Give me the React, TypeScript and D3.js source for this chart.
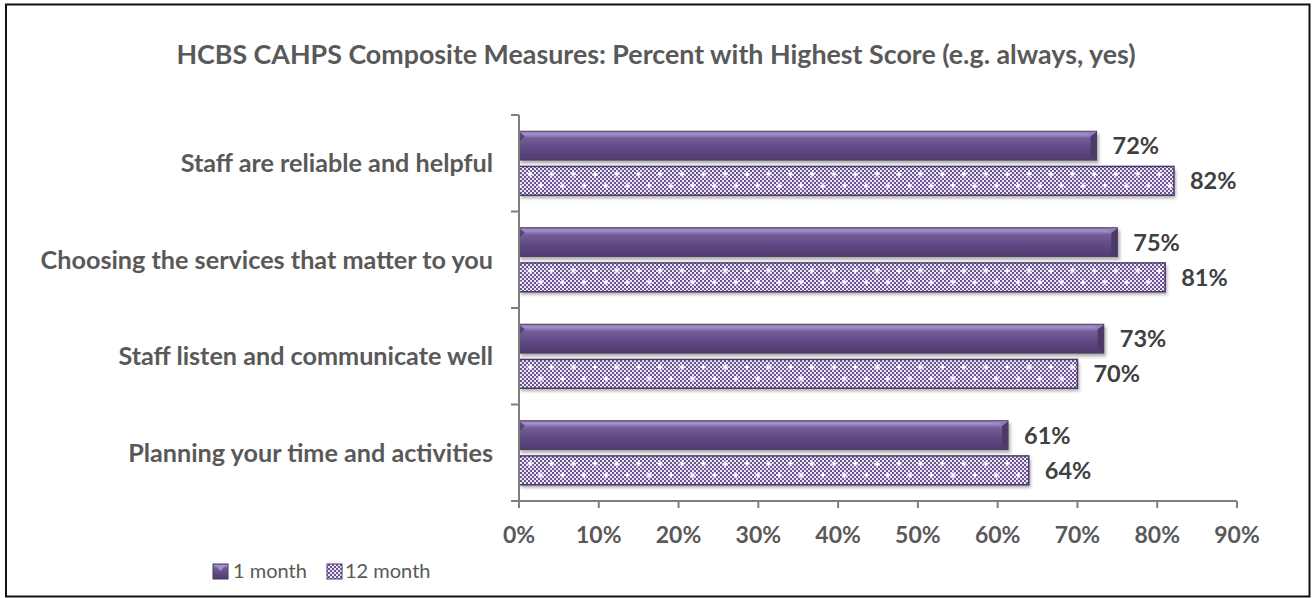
import React from "react";
import * as d3 from "d3";

const title = "HCBS CAHPS Composite Measures: Percent with Highest Score (e.g. always, yes)";
const categories = [
  "Staff are reliable and helpful",
  "Choosing the services that matter to you",
  "Staff listen and communicate well",
  "Planning your time and activities",
];
const seriesNames = ["1 month", "12 month"];
const oneMonth = [0.724, 0.75, 0.733, 0.613];
const twelveMonth = [0.821, 0.81, 0.7, 0.639];
const xTicks = [0, 0.1, 0.2, 0.3, 0.4, 0.5, 0.6, 0.7, 0.8, 0.9];

const W = 1312;
const H = 598;
const FONT = "Lato, 'Open Sans', 'DejaVu Sans', sans-serif";

export default function App() {
  const x = d3.scaleLinear().domain([0, 0.9]).range([519, 1237]);
  const y = d3.scaleBand<string>().domain(categories).range([115, 501]).padding(0);
  const fmt = d3.format(".0%");
  const values = [oneMonth, twelveMonth];

  const inner = (cat: string) =>
    d3
      .scaleBand<string>()
      .domain(seriesNames)
      .range([y(cat)! + y.bandwidth() / 2 - 32, y(cat)! + y.bandwidth() / 2 + 32])
      .paddingInner(0.18);

  const axisColor = "#7f7f7f";

  return (
    <svg
      width={W}
      height={H}
      style={{ position: "absolute", left: 0, top: 0, background: "#fff" }}
      fontFamily={FONT}
    >
      <defs>
        <linearGradient id="g1" x1="0" y1="0" x2="0" y2="1">
          <stop offset="0" stopColor="#8c77b2" />
          <stop offset="0.1" stopColor="#a591c9" />
          <stop offset="0.25" stopColor="#735c98" />
          <stop offset="0.6" stopColor="#5f4984" />
          <stop offset="1" stopColor="#4f3c6e" />
        </linearGradient>
        <pattern id="checker" patternUnits="userSpaceOnUse" width="4" height="4">
          <rect width="4" height="4" fill="#ece6f3" />
          <rect width="2" height="2" fill="#6a5394" />
          <rect x="2" y="2" width="2" height="2" fill="#6a5394" />
        </pattern>
        <filter id="shadow" x="-5%" y="-30%" width="110%" height="170%">
          <feDropShadow dx="2" dy="3" stdDeviation="1.8" floodColor="#000" floodOpacity="0.3" />
        </filter>
        {categories.map((c, i) => {
          const b = inner(c);
          const y0 = b(seriesNames[1])!;
          return (
            <pattern
              key={i}
              id={`cross-${i}`}
              patternUnits="userSpaceOnUse"
              x={x(0)}
              y={y0}
              width="21.7"
              height="23.2"
            >
              {[
                [11, 7.7],
                [0, 19.3],
                [21.7, 19.3],
              ].map(([cx, cy], k) => (
                <g key={k} fill="#ffffff">
                  <rect x={cx - 2.5} y={cy - 0.9} width={5} height={1.8} />
                  <rect x={cx - 0.9} y={cy - 2.5} width={1.8} height={5} />
                </g>
              ))}
            </pattern>
          );
        })}
      </defs>

      {/* frame */}
      <rect x={6} y={4.5} width={1303.5} height={592} fill="none" stroke="#111" strokeWidth={2} />

      {/* title */}
      <text
        x={656}
        y={64}
        textAnchor="middle"
        fontSize={26.8}
        fontWeight="bold"
        fill="#595959"
      >
        {title}
      </text>

      {/* bars */}
      {categories.map((c, i) => {
        const b = inner(c);
        const h = b.bandwidth();
        return (
          <g key={c}>
            {/* 1 month */}
            {(() => {
              const y0 = b(seriesNames[0])!;
              const x0 = x(0);
              const x1 = x(values[0][i]);
              return (
                <g>
                  <rect
                    x={x0}
                    y={y0}
                    width={x1 - x0}
                    height={h}
                    fill="url(#g1)"
                    stroke="#4a3962"
                    strokeWidth={1}
                    filter="url(#shadow)"
                  />
                  <polygon
                    points={`${x1 - 6},${y0 + 5} ${x1},${y0 + 0.5} ${x1},${y0 + h - 0.5} ${x1 - 6},${y0 + h - 4}`}
                    fill="#4c3a69"
                  />
                  <polygon
                    points={`${x1 - 12},${y0 + 0.5} ${x1},${y0 + 0.5} ${x1 - 6},${y0 + 5}`}
                    fill="#8e7ab3"
                    opacity={0.7}
                  />
                  <polygon
                    points={`${x0 + 0.5},${y0 + 0.5} ${x0 + 6},${y0 + 5} ${x0 + 0.5},${y0 + 10}`}
                    fill="#4c3a69"
                    opacity={0.8}
                  />
                  <text
                    x={x1 + 16}
                    y={y0 + h / 2}
                    dy="0.36em"
                    fontSize={23.5}
                    fontWeight="bold"
                    fill="#404040"
                  >
                    {fmt(values[0][i])}
                  </text>
                </g>
              );
            })()}
            {/* 12 month */}
            {(() => {
              const y0 = b(seriesNames[1])!;
              const x0 = x(0);
              const x1 = x(values[1][i]);
              return (
                <g>
                  <rect
                    x={x0}
                    y={y0}
                    width={x1 - x0}
                    height={h}
                    fill="url(#checker)"
                    filter="url(#shadow)"
                  />
                  <rect x={x0} y={y0} width={x1 - x0} height={h} fill={`url(#cross-${i})`} />
                  <rect
                    x={x0}
                    y={y0}
                    width={x1 - x0}
                    height={h}
                    fill="none"
                    stroke="#4b3a66"
                    strokeWidth={1.5}
                  />
                  <text
                    x={x1 + 16}
                    y={y0 + h / 2}
                    dy="0.36em"
                    fontSize={23.5}
                    fontWeight="bold"
                    fill="#404040"
                  >
                    {fmt(values[1][i])}
                  </text>
                </g>
              );
            })()}
          </g>
        );
      })}

      {/* y axis */}
      <line x1={x(0)} x2={x(0)} y1={y.range()[0]} y2={y.range()[1]} stroke={axisColor} strokeWidth={2} />
      {[...categories.map((c) => y(c)!), y.range()[1]].map((ty, k) => (
        <line key={k} x1={x(0) - 8} x2={x(0)} y1={ty} y2={ty} stroke={axisColor} strokeWidth={2} />
      ))}
      {categories.map((c) => (
        <text
          key={c}
          x={493}
          y={y(c)! + y.bandwidth() / 2}
          dy="0.36em"
          textAnchor="end"
          fontSize={25.2}
          fontWeight="bold"
          fill="#595959"
        >
          {c}
        </text>
      ))}

      {/* x axis */}
      <line x1={x(0)} x2={x(0.9)} y1={501} y2={501} stroke={axisColor} strokeWidth={2} />
      {xTicks.map((t) => (
        <g key={t}>
          <line x1={x(t)} x2={x(t)} y1={501} y2={508} stroke={axisColor} strokeWidth={2} />
          <text
            x={x(t)}
            y={535}
            dy="0.36em"
            textAnchor="middle"
            fontSize={23}
            fontWeight="bold"
            fill="#595959"
          >
            {fmt(t)}
          </text>
        </g>
      ))}

      {/* legend */}
      <g>
        <rect x={213} y={564} width={15} height={15} fill="url(#g1)" stroke="#4a3962" />
        <polygon points="216,566 225,566 220.5,571" fill="#a591c9" />
        <text x={233} y={571} dy="0.36em" fontSize={20} fill="#595959">
          {seriesNames[0]}
        </text>
        <rect x={327} y={564} width={15} height={15} fill="url(#checker)" stroke="#4b3a66" />
        <text x={345} y={571} dy="0.36em" fontSize={20} fill="#595959">
          {seriesNames[1]}
        </text>
      </g>
    </svg>
  );
}
